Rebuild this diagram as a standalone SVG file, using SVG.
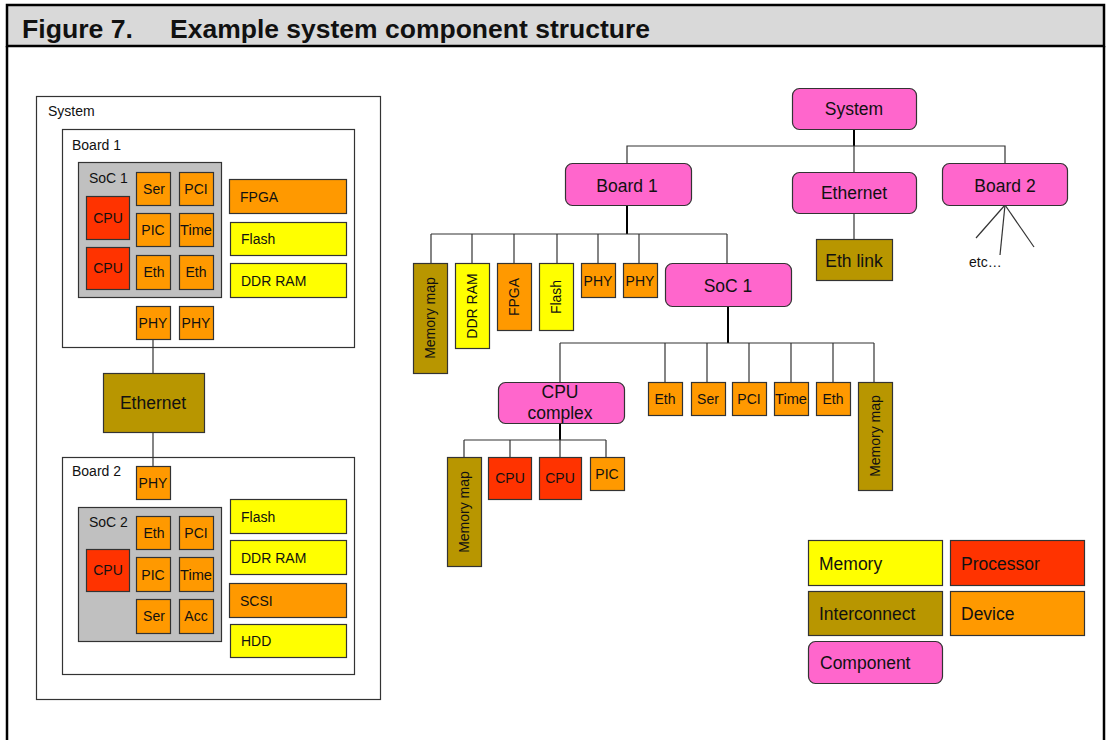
<svg xmlns="http://www.w3.org/2000/svg" width="1110" height="740" viewBox="0 0 1110 740">
<style>
text{font-family:"Liberation Sans",Arial,sans-serif;fill:#111}
.t14{font-size:14px}
.t17{font-size:17.5px}
.c{text-anchor:middle}
.mem{fill:#ffff00;stroke:#333;stroke-width:1.2}
.proc{fill:#ff3300;stroke:#333;stroke-width:1.2}
.dev{fill:#ff9900;stroke:#333;stroke-width:1.2}
.ic{fill:#b89600;stroke:#333;stroke-width:1.2}
.comp{fill:#ff66cc;stroke:#333;stroke-width:1.2}
.soc{fill:#c0c0c0;stroke:#333;stroke-width:1.2}
.frame{fill:#fff;stroke:#333;stroke-width:1.2}
.ln{stroke:#333;stroke-width:1.2;fill:none}
.th{stroke:#000;stroke-width:2;fill:none}
</style>
<rect x="0" y="0" width="1110" height="740" fill="#fff"/>
<g id="header">
<rect x="7" y="5" width="1097" height="41" fill="#d9d9d9" stroke="#000" stroke-width="2.5"/>
<line x1="7" y1="46" x2="7" y2="740" stroke="#000" stroke-width="2.5"/>
<line x1="1104" y1="46" x2="1104" y2="740" stroke="#000" stroke-width="2.5"/>
<text x="22" y="38" textLength="111" lengthAdjust="spacingAndGlyphs" style="font-size:25px;font-weight:bold">Figure 7.</text>
<text x="170" y="38" textLength="480" lengthAdjust="spacingAndGlyphs" style="font-size:25px;font-weight:bold">Example system component structure</text>
</g>

<!-- Left panel -->
<g id="l-system"><rect class="frame" x="36.5" y="96.5" width="344" height="603"/><text class="t14" x="48" y="116">System</text></g>
<g id="l-board1"><rect class="frame" x="62.5" y="129.5" width="292" height="218"/><text class="t14" x="72" y="150">Board 1</text></g>
<g id="l-soc1"><rect class="soc" x="78.5" y="162.5" width="143" height="135"/><text class="t14" x="89" y="183">SoC 1</text></g>
<g id="l-cpu1"><rect class="proc" x="86.5" y="196.5" width="43" height="43"/><text class="t14 c" x="108" y="223">CPU</text></g>
<g id="l-cpu2"><rect class="proc" x="86.5" y="247.5" width="43" height="42"/><text class="t14 c" x="108" y="273">CPU</text></g>
<g id="l-ser1"><rect class="dev" x="136.5" y="172.5" width="34" height="33"/><text class="t14 c" x="154" y="194">Ser</text></g>
<g id="l-pci1"><rect class="dev" x="179.5" y="172.5" width="34" height="33"/><text class="t14 c" x="196" y="194">PCI</text></g>
<g id="l-pic1"><rect class="dev" x="136.5" y="213.5" width="34" height="33"/><text class="t14 c" x="153" y="235">PIC</text></g>
<g id="l-time1"><rect class="dev" x="179.5" y="213.5" width="34" height="33"/><text class="t14 c" x="196" y="235" textLength="32" lengthAdjust="spacingAndGlyphs">Time</text></g>
<g id="l-eth1a"><rect class="dev" x="136.5" y="255.5" width="34" height="34"/><text class="t14 c" x="154" y="277">Eth</text></g>
<g id="l-eth1b"><rect class="dev" x="179.5" y="255.5" width="34" height="34"/><text class="t14 c" x="196" y="277">Eth</text></g>
<g id="l-fpga"><rect class="dev" x="229.5" y="179.5" width="117" height="34"/><text class="t14" x="240" y="202">FPGA</text></g>
<g id="l-flash1"><rect class="mem" x="230.5" y="222.5" width="116" height="33"/><text class="t14" x="241" y="244">Flash</text></g>
<g id="l-ddr1"><rect class="mem" x="230.5" y="263.5" width="116" height="34"/><text class="t14" x="241" y="286">DDR RAM</text></g>
<g id="l-phy1a"><rect class="dev" x="136.5" y="306.5" width="34" height="33"/><text class="t14 c" x="153" y="328">PHY</text></g>
<g id="l-phy1b"><rect class="dev" x="179.5" y="306.5" width="34" height="33"/><text class="t14 c" x="196" y="328">PHY</text></g>
<g id="l-ethernet"><rect class="ic" x="103.5" y="373.5" width="101" height="59"/><text class="t17 c" x="153" y="409">Ethernet</text></g>
<g id="l-board2"><rect class="frame" x="62.5" y="457.5" width="292" height="217"/><text class="t14" x="72" y="476">Board 2</text></g>
<g id="l-phy2"><rect class="dev" x="136.5" y="466.5" width="34" height="33"/><text class="t14 c" x="153" y="488">PHY</text></g>
<g id="l-soc2"><rect class="soc" x="78.5" y="507.5" width="143" height="134"/><text class="t14" x="89" y="527">SoC 2</text></g>
<g id="l-cpu3"><rect class="proc" x="86.5" y="549.5" width="43" height="42"/><text class="t14 c" x="108" y="575">CPU</text></g>
<g id="l-eth2"><rect class="dev" x="136.5" y="516.5" width="34" height="33"/><text class="t14 c" x="154" y="538">Eth</text></g>
<g id="l-pci2"><rect class="dev" x="179.5" y="516.5" width="34" height="33"/><text class="t14 c" x="196" y="538">PCI</text></g>
<g id="l-pic2"><rect class="dev" x="136.5" y="557.5" width="34" height="34"/><text class="t14 c" x="153" y="580">PIC</text></g>
<g id="l-time2"><rect class="dev" x="179.5" y="557.5" width="34" height="34"/><text class="t14 c" x="196" y="580" textLength="32" lengthAdjust="spacingAndGlyphs">Time</text></g>
<g id="l-ser2"><rect class="dev" x="136.5" y="599.5" width="34" height="34"/><text class="t14 c" x="154" y="621">Ser</text></g>
<g id="l-acc"><rect class="dev" x="179.5" y="599.5" width="34" height="34"/><text class="t14 c" x="196" y="621">Acc</text></g>
<g id="l-flash2"><rect class="mem" x="230.5" y="499.5" width="116" height="34"/><text class="t14" x="241" y="522">Flash</text></g>
<g id="l-ddr2"><rect class="mem" x="230.5" y="540.5" width="116" height="34"/><text class="t14" x="241" y="563">DDR RAM</text></g>
<g id="l-scsi"><rect class="dev" x="229.5" y="583.5" width="117" height="34"/><text class="t14" x="240" y="606">SCSI</text></g>
<g id="l-hdd"><rect class="mem" x="230.5" y="624.5" width="116" height="33"/><text class="t14" x="241" y="646">HDD</text></g>

<!-- Connectors -->
<g id="connectors">
<line class="ln" x1="153" y1="340" x2="153" y2="373"/>
<line class="ln" x1="153" y1="433" x2="153" y2="466"/>
<line class="th" x1="854" y1="129" x2="854" y2="146"/>
<polyline class="ln" points="627,163 627,146 1005,146 1005,163"/>
<line class="ln" x1="854" y1="146" x2="854" y2="172"/>
<line class="ln" x1="854" y1="213" x2="854" y2="239"/>
<line class="ln" x1="1005" y1="205" x2="976" y2="238"/>
<line class="ln" x1="1005" y1="205" x2="1000" y2="255"/>
<line class="ln" x1="1005" y1="205" x2="1034" y2="247"/>
<line class="th" x1="627" y1="205" x2="627" y2="234"/>
<line class="ln" x1="431" y1="234" x2="727" y2="234"/>
<line class="ln" x1="431" y1="234" x2="431" y2="263"/>
<line class="ln" x1="472" y1="234" x2="472" y2="263"/>
<line class="ln" x1="514" y1="234" x2="514" y2="263"/>
<line class="ln" x1="557" y1="234" x2="557" y2="263"/>
<line class="ln" x1="598" y1="234" x2="598" y2="263"/>
<line class="ln" x1="639" y1="234" x2="639" y2="263"/>
<line class="ln" x1="727" y1="234" x2="727" y2="263"/>
<line class="th" x1="728" y1="306" x2="728" y2="343"/>
<line class="ln" x1="560" y1="343" x2="874" y2="343"/>
<line class="ln" x1="560" y1="343" x2="560" y2="382"/>
<line class="ln" x1="665" y1="343" x2="665" y2="382"/>
<line class="ln" x1="707" y1="343" x2="707" y2="382"/>
<line class="ln" x1="749" y1="343" x2="749" y2="382"/>
<line class="ln" x1="791" y1="343" x2="791" y2="382"/>
<line class="ln" x1="833" y1="343" x2="833" y2="382"/>
<line class="ln" x1="874" y1="343" x2="874" y2="382"/>
<line class="th" x1="560" y1="423" x2="560" y2="440"/>
<line class="ln" x1="464" y1="440" x2="606" y2="440"/>
<line class="ln" x1="464" y1="440" x2="464" y2="457"/>
<line class="ln" x1="510" y1="440" x2="510" y2="457"/>
<line class="ln" x1="560" y1="440" x2="560" y2="457"/>
<line class="ln" x1="606" y1="440" x2="606" y2="457"/>
</g>

<!-- Right tree -->
<g id="r-system"><rect class="comp" x="792.5" y="88.5" width="124" height="41" rx="7"/><text class="t17 c" x="854" y="115">System</text></g>
<g id="r-board1"><rect class="comp" x="565.5" y="163.5" width="126" height="42" rx="7"/><text class="t17 c" x="627" y="192">Board 1</text></g>
<g id="r-ethernet"><rect class="comp" x="792.5" y="172.5" width="124" height="41" rx="7"/><text class="t17 c" x="854" y="199">Ethernet</text></g>
<g id="r-board2"><rect class="comp" x="942.5" y="163.5" width="125" height="42" rx="7"/><text class="t17 c" x="1005" y="192">Board 2</text></g>
<g id="r-ethlink"><rect class="ic" x="816.5" y="239.5" width="76" height="41"/><text class="t17 c" x="854" y="267">Eth link</text></g>
<g id="r-etc"><text class="t14" x="969" y="267">etc…</text></g>
<g id="r-memmap1"><rect class="ic" x="413.5" y="263.5" width="34" height="110"/><text class="t14 c" transform="translate(435,318) rotate(-90)">Memory map</text></g>
<g id="r-ddr"><rect class="mem" x="455.5" y="263.5" width="34" height="85"/><text class="t14 c" transform="translate(477,306) rotate(-90)">DDR RAM</text></g>
<g id="r-fpga"><rect class="dev" x="497.5" y="263.5" width="34" height="67"/><text class="t14 c" transform="translate(519,297) rotate(-90)">FPGA</text></g>
<g id="r-flash"><rect class="mem" x="539.5" y="263.5" width="34" height="67"/><text class="t14 c" transform="translate(561,297) rotate(-90)">Flash</text></g>
<g id="r-phy1"><rect class="dev" x="581.5" y="263.5" width="34" height="34"/><text class="t14 c" x="598" y="286">PHY</text></g>
<g id="r-phy2"><rect class="dev" x="623.5" y="263.5" width="34" height="34"/><text class="t14 c" x="640" y="286">PHY</text></g>
<g id="r-soc1"><rect class="comp" x="665.5" y="263.5" width="126" height="43" rx="7"/><text class="t17 c" x="728" y="292">SoC 1</text></g>
<g id="r-cpucomplex"><rect class="comp" x="498.5" y="382.5" width="126" height="41" rx="7"/><text class="t17 c" x="560" y="398">CPU</text><text class="t17 c" x="560" y="419">complex</text></g>
<g id="r-eth1"><rect class="dev" x="648.5" y="382.5" width="34" height="33"/><text class="t14 c" x="665" y="404">Eth</text></g>
<g id="r-ser"><rect class="dev" x="691.5" y="382.5" width="34" height="33"/><text class="t14 c" x="708" y="404">Ser</text></g>
<g id="r-pci"><rect class="dev" x="732.5" y="382.5" width="34" height="33"/><text class="t14 c" x="749" y="404">PCI</text></g>
<g id="r-time"><rect class="dev" x="774.5" y="382.5" width="34" height="33"/><text class="t14 c" x="791" y="404" textLength="32" lengthAdjust="spacingAndGlyphs">Time</text></g>
<g id="r-eth2"><rect class="dev" x="816.5" y="382.5" width="34" height="33"/><text class="t14 c" x="833" y="404">Eth</text></g>
<g id="r-memmap2"><rect class="ic" x="858.5" y="382.5" width="34" height="108"/><text class="t14 c" transform="translate(880,436) rotate(-90)">Memory map</text></g>
<g id="r-memmap3"><rect class="ic" x="447.5" y="457.5" width="34" height="109"/><text class="t14 c" transform="translate(469,512) rotate(-90)">Memory map</text></g>
<g id="r-cpu1"><rect class="proc" x="488.5" y="457.5" width="43" height="42"/><text class="t14 c" x="510" y="483">CPU</text></g>
<g id="r-cpu2"><rect class="proc" x="539.5" y="457.5" width="42" height="42"/><text class="t14 c" x="560" y="483">CPU</text></g>
<g id="r-pic"><rect class="dev" x="590.5" y="457.5" width="34" height="33"/><text class="t14 c" x="607" y="479">PIC</text></g>

<!-- Legend -->
<g id="legend-memory"><rect class="mem" x="808.5" y="540.5" width="134" height="45"/><text class="t17" x="819" y="570">Memory</text></g>
<g id="legend-processor"><rect class="proc" x="950.5" y="540.5" width="134" height="45"/><text class="t17" x="961" y="570">Processor</text></g>
<g id="legend-interconnect"><rect class="ic" x="808.5" y="591.5" width="134" height="44"/><text class="t17" x="819" y="620">Interconnect</text></g>
<g id="legend-device"><rect class="dev" x="950.5" y="591.5" width="134" height="44"/><text class="t17" x="961" y="620">Device</text></g>
<g id="legend-component"><rect class="comp" x="808.5" y="641.5" width="134" height="42" rx="7"/><text class="t17" x="820" y="669">Component</text></g>
</svg>
